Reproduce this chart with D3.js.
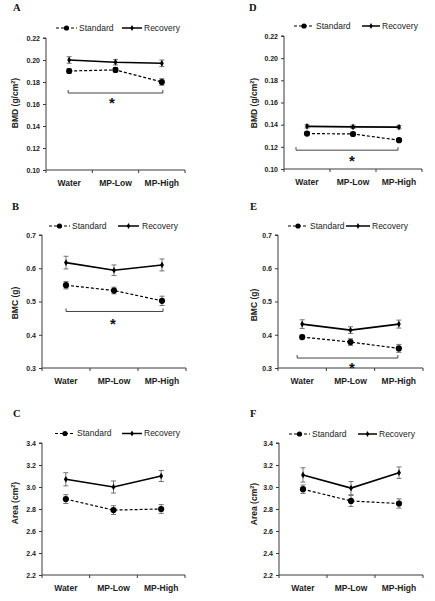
<!DOCTYPE html>
<html><head><meta charset="utf-8">
<script src="https://cdn.jsdelivr.net/npm/d3@7"></script>
<style>
html,body{margin:0;padding:0;background:#fff;}
svg{display:block;font-family:"Liberation Sans",Arial,sans-serif;}
</style></head>
<body>
<svg id="chart" width="435" height="601"></svg>
<script>
// ---------- data ----------
const categories = ["Water", "MP-Low", "MP-High"];
const seriesNames = ["Standard", "Recovery"];
const panelLetters = ["A", "B", "C", "D", "E", "F"];

const bmdTicks = [0.10, 0.12, 0.14, 0.16, 0.18, 0.20, 0.22];
const bmcTicks = [0.3, 0.4, 0.5, 0.6, 0.7];
const areaTicks = [2.2, 2.4, 2.6, 2.8, 3.0, 3.2, 3.4];

// Panel A (BMD)
const standardA = [0.190, 0.191, 0.180];
const standardErrA = [0.002, 0.002, 0.003];
const recoveryA = [0.200, 0.198, 0.197];
const recoveryErrA = [0.003, 0.0025, 0.003];
// Panel B (BMC)
const standardB = [0.549, 0.533, 0.502];
const standardErrB = [0.011, 0.010, 0.014];
const recoveryB = [0.617, 0.594, 0.610];
const recoveryErrB = [0.019, 0.016, 0.018];
// Panel C (Area)
const standardC = [2.89, 2.79, 2.80];
const standardErrC = [0.04, 0.04, 0.04];
const recoveryC = [3.07, 3.00, 3.10];
const recoveryErrC = [0.06, 0.055, 0.05];
// Panel D (BMD)
const standardD = [0.132, 0.1316, 0.126];
const standardErrD = [0.0015, 0.0015, 0.0015];
const recoveryD = [0.1385, 0.138, 0.1378];
const recoveryErrD = [0.0015, 0.0015, 0.0015];
// Panel E (BMC)
const standardE = [0.393, 0.378, 0.359];
const standardErrE = [0.006, 0.010, 0.012];
const recoveryE = [0.432, 0.414, 0.432];
const recoveryErrE = [0.013, 0.010, 0.012];
// Panel F (Area)
const standardF = [2.98, 2.873, 2.85];
const standardErrF = [0.038, 0.05, 0.042];
const recoveryF = [3.11, 2.99, 3.13];
const recoveryErrF = [0.065, 0.06, 0.052];

// significance brackets (value level of bracket line)
const bracketPanels = ["A", "B", "D", "E"];
const bracketLevels = [0.170, 0.470, 0.117, 0.330];
const bracketSymbol = "*";

// ---------- layout (positions / styles) ----------
const layout = {
  A: {x0: 46, x1: 185, yTop: 38, yBot: 170, ticks: bmdTicks, fmt: ".2f", title: ["BMD (g/cm", "2", ")"],
      letter: [13, 10.5], tx: 15.5, ty: 103,
      leg: {y: 28, dash: [56, 77], stdText: 79, solid: [122, 142], recText: 144},
      br: {dx0: -1, dx1: 1, ast: [112, 99.5]}},
  B: {x0: 42, x1: 186, yTop: 235, yBot: 368, ticks: bmcTicks, fmt: ".1f", title: ["BMC (g)"],
      letter: [12, 209.5], tx: 15.5, ty: 303,
      leg: {y: 226, dash: [49, 70], stdText: 72, solid: [118, 139], recText: 142},
      br: {dx0: 0, dx1: 1, ast: [113, 320.5]}},
  C: {x0: 42, x1: 185, yTop: 443, yBot: 575, ticks: areaTicks, fmt: ".1f", title: ["Area (cm", "2", ")"],
      letter: [13, 416.5], tx: 15.5, ty: 503,
      leg: {y: 433.5, dash: [55, 75], stdText: 77, solid: [122, 142], recText: 144}},
  D: {x0: 284, x1: 422, yTop: 36, yBot: 169, ticks: bmdTicks, fmt: ".2f", title: ["BMD (g/cm", "2", ")"],
      letter: [249, 10.5], tx: 254, ty: 103,
      leg: {y: 26, dash: [294, 314], stdText: 316, solid: [362, 380], recText: 382},
      br: {dx0: -11, dx1: -1, ast: [352, 157]}},
  E: {x0: 278, x1: 423, yTop: 235, yBot: 368, ticks: bmcTicks, fmt: ".1f", title: ["BMC (g)"],
      letter: [250, 209.5], tx: 254, ty: 305,
      leg: {y: 226, dash: [288, 308], stdText: 310, solid: [346, 370], recText: 372},
      br: {dx0: -5, dx1: -1, ast: [352, 364]}},
  F: {x0: 279, x1: 423, yTop: 443, yBot: 575, ticks: areaTicks, fmt: ".1f", title: ["Area (cm", "2", ")"],
      letter: [250, 416.5], tx: 254, ty: 504,
      leg: {y: 434, dash: [289, 310], stdText: 312, solid: [358, 377], recText: 379}}
};

const panelData = {
  A: [standardA, standardErrA, recoveryA, recoveryErrA],
  B: [standardB, standardErrB, recoveryB, recoveryErrB],
  C: [standardC, standardErrC, recoveryC, recoveryErrC],
  D: [standardD, standardErrD, recoveryD, recoveryErrD],
  E: [standardE, standardErrE, recoveryE, recoveryErrE],
  F: [standardF, standardErrF, recoveryF, recoveryErrF]
};

const axisColor = "#3a3a3a";
const errColor = "#666";
const svg = d3.select("#chart");

panelLetters.forEach(p => {
  const L = layout[p];
  const [stdV, stdE, recV, recE] = panelData[p];
  const g = svg.append("g");

  const x = d3.scaleBand().domain(categories).range([L.x0, L.x1]).padding(0);
  const cx = c => x(c) + x.bandwidth() / 2;
  const y = d3.scaleLinear().domain(d3.extent(L.ticks)).range([L.yBot, L.yTop]);

  // panel letter
  g.append("text").attr("x", L.letter[0]).attr("y", L.letter[1])
    .attr("font-family", "'Liberation Serif','Times New Roman',serif")
    .attr("font-weight", "bold").attr("font-size", 10.5).attr("fill", "#111").text(p);

  // y axis
  const yAx = g.append("g").attr("transform", `translate(${L.x0},0)`)
    .call(d3.axisLeft(y).tickValues(L.ticks).tickSize(3).tickPadding(3).tickFormat(d3.format(L.fmt)));
  yAx.select(".domain").attr("stroke", axisColor).attr("d", `M-3,${L.yTop}H0V${L.yBot}`);
  yAx.selectAll(".tick line").attr("stroke", axisColor);
  yAx.selectAll(".tick text").attr("font-size", 7).attr("font-weight", "bold").attr("fill", "#222")
    .attr("font-family", "'Liberation Sans',Arial,sans-serif");

  // x axis: line with ticks at category boundaries
  g.append("line").attr("x1", L.x0).attr("x2", L.x1).attr("y1", L.yBot).attr("y2", L.yBot)
    .attr("stroke", axisColor);
  const bounds = categories.map(c => x(c)).concat([L.x1]);
  g.selectAll(".xtick").data(bounds).enter().append("line")
    .attr("x1", d => d).attr("x2", d => d).attr("y1", L.yBot).attr("y2", L.yBot + 3)
    .attr("stroke", axisColor);
  g.selectAll(".xlab").data(categories).enter().append("text")
    .attr("x", d => cx(d)).attr("y", L.yBot + 16).attr("text-anchor", "middle")
    .attr("font-size", 8.5).attr("font-weight", "bold").attr("fill", "#222").text(d => d);

  // y title
  const t = g.append("text").attr("transform", `translate(${L.tx},${L.ty}) rotate(-90)`)
    .attr("text-anchor", "middle").attr("dy", "0.35em")
    .attr("font-size", 8.5).attr("font-weight", "bold").attr("fill", "#222");
  t.append("tspan").text(L.title[0]);
  if (L.title.length > 1) {
    t.append("tspan").attr("font-size", 5.5).attr("dy", "-3").text(L.title[1]);
    t.append("tspan").attr("dy", "3").text(L.title[2]);
  }

  // series
  const series = [
    {name: seriesNames[0], v: stdV, e: stdE, dash: "3,2", w: 1.2},
    {name: seriesNames[1], v: recV, e: recE, dash: null, w: 1.6}
  ];
  series.forEach(s => {
    const pts = categories.map((c, i) => ({c, v: s.v[i], e: s.e[i]}));
    // error bars
    pts.forEach(d => {
      const yt = y(d.v + d.e), yb = y(d.v - d.e), xx = cx(d.c);
      g.append("line").attr("x1", xx).attr("x2", xx).attr("y1", yt).attr("y2", yb)
        .attr("stroke", errColor).attr("stroke-width", 0.9);
      [yt, yb].forEach(yy => g.append("line").attr("x1", xx - 2.5).attr("x2", xx + 2.5)
        .attr("y1", yy).attr("y2", yy).attr("stroke", errColor).attr("stroke-width", 0.9));
    });
    g.append("path").datum(pts)
      .attr("d", d3.line().x(d => cx(d.c)).y(d => y(d.v)))
      .attr("fill", "none").attr("stroke", "#000").attr("stroke-width", s.w)
      .attr("stroke-dasharray", s.dash);
    if (s.name === "Standard") {
      g.selectAll(null).data(pts).enter().append("circle")
        .attr("cx", d => cx(d.c)).attr("cy", d => y(d.v)).attr("r", 3.1).attr("fill", "#000");
    } else {
      g.selectAll(null).data(pts).enter().append("path")
        .attr("transform", d => `translate(${cx(d.c)},${y(d.v)})`)
        .attr("d", d3.symbol(d3.symbolDiamond, 13)).attr("fill", "#000");
    }
  });

  // legend
  const lg = L.leg;
  g.append("line").attr("x1", lg.dash[0]).attr("x2", lg.dash[1]).attr("y1", lg.y).attr("y2", lg.y)
    .attr("stroke", "#000").attr("stroke-width", 1.2).attr("stroke-dasharray", "3,2");
  g.append("circle").attr("cx", (lg.dash[0] + lg.dash[1]) / 2).attr("cy", lg.y).attr("r", 2.6).attr("fill", "#000");
  g.append("text").attr("x", lg.stdText).attr("y", lg.y).attr("dy", "0.35em")
    .attr("font-size", 8.5).attr("fill", "#222").text(seriesNames[0]);
  g.append("line").attr("x1", lg.solid[0]).attr("x2", lg.solid[1]).attr("y1", lg.y).attr("y2", lg.y)
    .attr("stroke", "#000").attr("stroke-width", 1.5);
  g.append("path").attr("transform", `translate(${(lg.solid[0] + lg.solid[1]) / 2},${lg.y})`)
    .attr("d", d3.symbol(d3.symbolDiamond, 10)).attr("fill", "#000");
  g.append("text").attr("x", lg.recText).attr("y", lg.y).attr("dy", "0.35em")
    .attr("font-size", 8.5).attr("fill", "#222").text(seriesNames[1]);

  // significance bracket
  const bi = bracketPanels.indexOf(p);
  if (bi >= 0) {
    const by = y(bracketLevels[bi]);
    const bx0 = cx(categories[0]) + L.br.dx0, bx1 = cx(categories[2]) + L.br.dx1;
    g.append("path").attr("d", `M${bx0},${by - 3}V${by}H${bx1}V${by - 3}`)
      .attr("fill", "none").attr("stroke", "#444").attr("stroke-width", 1);
    g.append("text").attr("x", L.br.ast[0]).attr("y", L.br.ast[1] + 8.5).attr("text-anchor", "middle")
      .attr("font-size", 15).attr("font-weight", "bold").attr("fill", "#111").text(bracketSymbol);
  }
});
</script>
</body></html>
